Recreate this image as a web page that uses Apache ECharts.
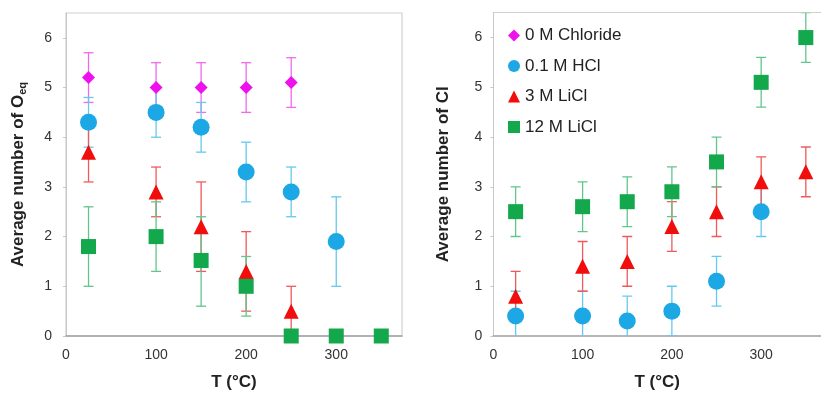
<!DOCTYPE html>
<html><head><meta charset="utf-8">
<script src="https://cdn.jsdelivr.net/npm/echarts@6/dist/echarts.min.js"></script>
<style>html,body{margin:0;padding:0;background:#fff}#c{width:821px;height:396px}</style>
</head><body><div id="c"></div>
<script>
// Series names
const seriesNames = ['0 M Chloride', '0.1 M HCl', '3 M LiCl', '12 M LiCl'];
// Temperatures (°C)
const tChloride0 = [25, 100, 150, 200, 250];
const tHCl = [25, 100, 150, 200, 250, 300];
const tLiCl3 = [25, 100, 150, 200, 250];
const tLiCl12 = [25, 100, 150, 200, 250, 300, 350];
const tLiCl3Cl = [25, 100, 150, 200, 250, 300, 350];
// Left panel: average number of O_eq  [value, low, high]
const oeqChloride0 = [[5.2,4.7,5.7],[5.0,4.5,5.5],[5.0,4.5,5.5],[5.0,4.5,5.5],[5.1,4.6,5.6]];
const oeqHCl = [[4.3,3.8,4.8],[4.5,4.0,5.0],[4.2,3.7,4.7],[3.3,2.7,3.9],[2.9,2.4,3.4],[1.9,1.0,2.8]];
const oeqLiCl3 = [[3.7,3.1,4.3],[2.9,2.4,3.4],[2.2,1.3,3.1],[1.3,0.5,2.1],[0.5,0.0,1.0]];
const oeqLiCl12 = [[1.8,1.0,2.6],[2.0,1.3,2.7],[1.52,0.6,2.4],[1.0,0.4,1.6],[0,0,0],[0,0,0],[0,0,0]];
// Right panel: average number of Cl  [value, low, high]
const clHCl = [[0.4,-0.1,0.9],[0.4,-0.1,0.9],[0.3,-0.2,0.8],[0.5,0.0,1.0],[1.1,0.6,1.6],[2.5,2.0,3.0]];
const clLiCl3 = [[0.8,0.3,1.3],[1.4,0.9,1.9],[1.5,1.0,2.0],[2.2,1.7,2.7],[2.5,2.0,3.0],[3.1,2.6,3.6],[3.3,2.8,3.8]];
const clLiCl12 = [[2.5,2.0,3.0],[2.6,2.1,3.1],[2.7,2.2,3.2],[2.9,2.4,3.4],[3.5,3.0,4.0],[5.1,4.6,5.6],[6.0,5.5,6.5]];
// Tick labels
const xTicks = [0, 100, 200, 300];
const yTicks = [0, 1, 2, 3, 4, 5, 6];

const markerColors = ['#ee11ee', '#1ba8e4', '#f20d0d', '#12a84b'];
const barColors = ['#f06af0', '#66c8ee', '#f05a5a', '#62c58c'];
const symbols = ['diamond', 'circle', 'triangle', 'rect'];
const symbolSizes = [13, 17, 15, 15];

function pts(ts, arr) { return ts.map((t, i) => [t, arr[i][0], arr[i][1], arr[i][2]]); }

function errSeries(idx, gi, data) {
  return {
    type: 'custom', xAxisIndex: gi, yAxisIndex: gi, clip: true, z: 1,
    silent: true, data: data,
    renderItem: function (params, api) {
      const x = api.value(0);
      const lo = api.coord([x, api.value(2)]);
      const hi = api.coord([x, api.value(3)]);
      const w = 5;
      const st = { stroke: barColors[idx], lineWidth: 1.3 };
      return { type: 'group', children: [
        { type: 'line', shape: { x1: lo[0], y1: lo[1], x2: hi[0], y2: hi[1] }, style: st },
        { type: 'line', shape: { x1: lo[0]-w, y1: lo[1], x2: lo[0]+w, y2: lo[1] }, style: st },
        { type: 'line', shape: { x1: hi[0]-w, y1: hi[1], x2: hi[0]+w, y2: hi[1] }, style: st }
      ]};
    }
  };
}
function scatSeries(idx, gi, data) {
  return {
    name: seriesNames[idx], type: 'scatter', xAxisIndex: gi, yAxisIndex: gi, z: 3,
    symbol: symbols[idx], symbolSize: symbolSizes[idx],
    itemStyle: { color: markerColors[idx], opacity: 1 },
    data: data.map(d => [d[0], d[1]])
  };
}

const leftData = [pts(tChloride0, oeqChloride0), pts(tHCl, oeqHCl), pts(tLiCl3, oeqLiCl3), pts(tLiCl12, oeqLiCl12)];
const rightData = [[], pts(tHCl, clHCl), pts(tLiCl3Cl, clLiCl3), pts(tLiCl12, clLiCl12)];

const series = [];
for (let i = 0; i < 4; i++) series.push(errSeries(i, 0, leftData[i]));
for (let i = 0; i < 4; i++) series.push(errSeries(i, 1, rightData[i]));
for (let i = 0; i < 4; i++) series.push(scatSeries(i, 0, leftData[i]));
for (let i = 0; i < 4; i++) series.push(scatSeries(i, 1, rightData[i]));

const FF = 'Liberation Sans, Arial, sans-serif';
const lbl = { color: '#333', fontSize: 14, fontFamily: FF };
const nameStyle = { color: '#222', fontSize: 17, fontWeight: 'bold', fontFamily: FF,
  rich: { sub: { fontSize: 11, fontWeight: 'bold', color: '#222', fontFamily: FF, verticalAlign: 'bottom', padding: [9, 0, 0, 0] } } };

function xAxis(gi, max) {
  return { type: 'value', gridIndex: gi, min: 0, max: max, interval: 100,
    name: 'T (°C)', nameLocation: 'middle', nameGap: 38, nameTextStyle: nameStyle,
    axisLine: { show: true, lineStyle: { color: '#a0a0a0', width: 1.5 } },
    axisTick: { show: false }, splitLine: { show: false },
    axisLabel: Object.assign({ margin: 12, showMaxLabel: false,
      formatter: v => xTicks.indexOf(v) >= 0 ? String(v) : '' }, lbl) };
}
function yAxis(gi, name, gap, margin) {
  return { type: 'value', gridIndex: gi, min: 0, max: 6.5, interval: 1,
    name: name, nameLocation: 'middle', nameRotate: 90, nameGap: gap, nameTextStyle: nameStyle,
    axisLine: { show: true, lineStyle: { color: '#c8c8c8', width: 1 } },
    axisTick: { show: true, length: 3, lineStyle: { color: '#c8c8c8' } }, splitLine: { show: false },
    axisLabel: Object.assign({ margin: margin, showMaxLabel: false,
      formatter: v => yTicks.indexOf(v) >= 0 ? String(v) : '' }, lbl) };
}
// top frame line of right panel (its right edge lies outside the picture)
const topFrame = { type: 'value', gridIndex: 1, position: 'top', min: 0, max: 367, show: true,
  axisLine: { show: true, onZero: false, lineStyle: { color: '#d0d0d0', width: 1.2 } },
  axisTick: { show: false }, axisLabel: { show: false }, splitLine: { show: false } };

const chart = echarts.init(document.getElementById('c'), null, { renderer: 'canvas' });
chart.setOption({
  animation: false,
  backgroundColor: '#fff',
  grid: [
    { left: 66, top: 13, width: 336, height: 324.5, show: true, borderColor: '#d0d0d0', borderWidth: 1.2 },
    { left: 493.3, top: 12.7, width: 327.7, height: 324, show: false }
  ],
  xAxis: [xAxis(0, 373), xAxis(1, 367), topFrame],
  yAxis: [yAxis(0, 'Average number of O{sub|eq}', 38, 14), yAxis(1, 'Average number of Cl', 41, 11)],
  legend: {
    left: 508, top: 27, padding: 0, orient: 'vertical', itemGap: 13.5, itemWidth: 12, itemHeight: 12, itemTextGap: 1,
    data: seriesNames.map((n, i) => ({ name: n, icon: symbols[i] })),
    textStyle: { color: '#222', fontSize: 17, fontFamily: FF }
  },
  series: series
});
</script></body></html>
